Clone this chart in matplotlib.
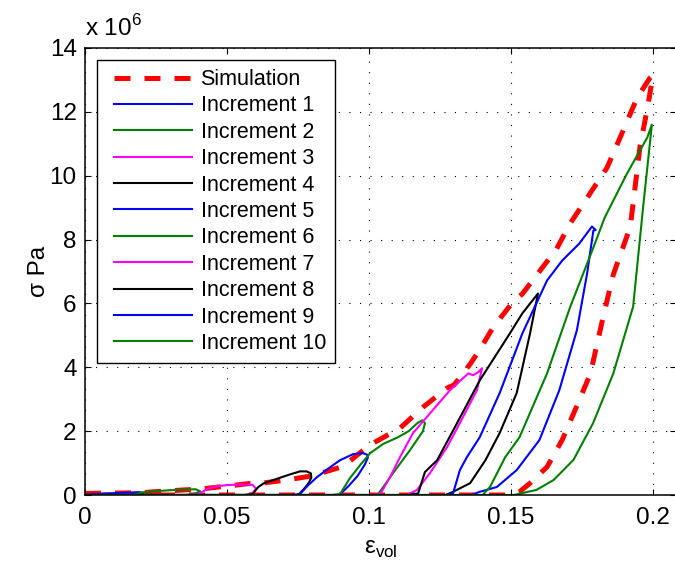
import matplotlib
matplotlib.use("Agg")
import matplotlib.pyplot as plt
from matplotlib.ticker import FuncFormatter
from matplotlib.lines import Line2D
from matplotlib.legend_handler import HandlerLine2D

plt.rcParams['font.family'] = ['Liberation Sans', 'DejaVu Sans']
plt.rcParams['mathtext.fontset'] = 'custom'
plt.rcParams['mathtext.rm'] = 'Liberation Sans'

# stress values are in units of 1e6 Pa
sim_x = [0, 0.01, 0.02, 0.024, 0.035, 0.04, 0.047, 0.059, 0.063, 0.071, 0.08,
         0.091, 0.1, 0.111, 0.119, 0.1275, 0.13, 0.1356, 0.139, 0.1437, 0.1507,
         0.154, 0.16, 0.166, 0.1708, 0.1778, 0.1838, 0.1884, 0.1944, 0.1989, 0.2,
         0.198, 0.1954, 0.192, 0.186, 0.1824, 0.178, 0.173, 0.168, 0.1627, 0.1567,
         0.153, 0.148, 0.0]
sim_y = [0.05, 0.06, 0.07, 0.1, 0.16, 0.18, 0.25, 0.37, 0.38, 0.47, 0.6,
         0.9, 1.55, 2.1, 2.75, 3.35, 3.45, 4.1, 4.55, 5.25, 6.05,
         6.3, 7.0, 7.7, 8.5, 9.44, 10.25, 11.19, 12.44, 13.06, 13.15,
         12.1, 10.9, 8.4, 6.9, 5.56, 3.81, 2.75, 1.72, 0.88, 0.37,
         0.1, 0.0, 0.0]

inc1_x = [0, 0.002, 0.008, 0.014, 0.019, 0.0205, 0.02, 0.018, 0.015]
inc1_y = [0, 0.02, 0.05, 0.07, 0.09, 0.07, 0.03, 0.01, 0]

inc2_x = [0, 0.017, 0.02, 0.025, 0.03, 0.035, 0.039, 0.0405, 0.039, 0.036]
inc2_y = [0, 0, 0.08, 0.12, 0.15, 0.17, 0.18, 0.12, 0.05, 0]

inc3_x = [0, 0.036, 0.0398, 0.043, 0.046, 0.05, 0.055, 0.059, 0.0602, 0.059, 0.057]
inc3_y = [0, 0, 0.02, 0.19, 0.27, 0.31, 0.33, 0.32, 0.2, 0.06, 0]

inc4_x = [0, 0.056, 0.059, 0.061, 0.063, 0.068, 0.072, 0.0757, 0.078, 0.0795,
          0.0797, 0.0788, 0.077, 0.0755, 0.0745]
inc4_y = [0, 0, 0.03, 0.25, 0.37, 0.52, 0.64, 0.74, 0.74, 0.68, 0.55, 0.38,
          0.18, 0.04, 0]

inc5_x = [0, 0.073, 0.0757, 0.0785, 0.0817, 0.086, 0.0898, 0.0944, 0.0979,
          0.0994, 0.0996, 0.0985, 0.096, 0.093, 0.0905, 0.089]
inc5_y = [0, 0, 0.03, 0.3, 0.56, 0.85, 1.09, 1.28, 1.31, 1.26, 1.17, 0.95,
          0.6, 0.3, 0.08, 0]

inc6_x = [0, 0.087, 0.0898, 0.0933, 0.097, 0.1004, 0.105, 0.11, 0.114, 0.117,
          0.1188, 0.1197, 0.119, 0.1144, 0.1085, 0.105, 0.103]
inc6_y = [0, 0, 0.03, 0.53, 0.95, 1.31, 1.6, 1.8, 2.0, 2.25, 2.34, 2.25, 2.0,
          1.4, 0.69, 0.25, 0]

inc7_x = [0, 0.101, 0.104, 0.1074, 0.111, 0.1155, 0.1215, 0.1285, 0.133, 0.135,
          0.1366, 0.1385, 0.1398, 0.138, 0.1331, 0.1275, 0.1215, 0.1169, 0.1135]
inc7_y = [0, 0, 0.03, 0.56, 1.2, 1.94, 2.56, 3.28, 3.65, 3.81, 3.75, 3.85, 3.97,
          3.28, 2.44, 1.5, 0.69, 0.16, 0]

inc8_x = [0, 0.114, 0.1173, 0.1197, 0.124, 0.131, 0.139, 0.1496, 0.154, 0.1595,
          0.1567, 0.152, 0.146, 0.141, 0.1356, 0.1296, 0.127]
inc8_y = [0, 0, 0.05, 0.72, 1.09, 2.25, 3.59, 5.06, 5.69, 6.31,
          5.06, 3.19, 1.94, 1.09, 0.37, 0.1, 0]

inc9_x = [0, 0.127, 0.1296, 0.132, 0.1345, 0.139, 0.146, 0.154, 0.1627, 0.168,
          0.174, 0.1785, 0.1798, 0.179, 0.1768, 0.1732, 0.167, 0.16, 0.152,
          0.145, 0.139, 0.136]
inc9_y = [0, 0, 0.05, 0.78, 1.19, 1.81, 3.19, 5.06, 6.72, 7.34,
          7.87, 8.41, 8.3, 8.28, 6.94, 5.16, 3.28, 1.72, 0.78,
          0.25, 0.1, 0]

inc10_x = [0, 0.14, 0.1426, 0.148, 0.153, 0.1627, 0.1708, 0.179, 0.183, 0.1908,
           0.198, 0.1996, 0.1965, 0.193, 0.186, 0.1789, 0.172, 0.165, 0.159,
           0.151, 0.0]
inc10_y = [0, 0, 0.25, 1.19, 1.81, 3.81, 5.88, 7.75, 8.69, 10.06,
           11.2, 11.6, 9.0, 5.9, 3.8, 2.25, 1.1, 0.47, 0.16, 0, 0]

inc_x = [inc1_x, inc2_x, inc3_x, inc4_x, inc5_x, inc6_x, inc7_x, inc8_x, inc9_x, inc10_x]
inc_y = [inc1_y, inc2_y, inc3_y, inc4_y, inc5_y, inc6_y, inc7_y, inc8_y, inc9_y, inc10_y]
inc_colors = ['#0000ff', '#008000', '#ff00ff', '#000000']

x_ticks = [0, 0.05, 0.1, 0.15, 0.2]
y_ticks = [0, 2, 4, 6, 8, 10, 12, 14]

fig = plt.figure(figsize=(6.75, 5.72), dpi=100)
ax = fig.add_axes([85 / 675, 77 / 572, (676 - 85) / 675, (495 - 48) / 572])

ax.plot(sim_x, [v * 1e6 for v in sim_y], color='red', lw=3.6,
        dashes=(3.2, 2.8), label='Simulation')
for i in range(10):
    ax.plot(inc_x[i], [v * 1e6 for v in inc_y[i]], color=inc_colors[i % 4],
            lw=1.5, label='Increment %d' % (i + 1))

ax.set_xlim(0, (676 - 85) / 2840)
ax.set_ylim(0, 14e6)
ax.set_xticks(x_ticks)
ax.set_yticks([v * 1e6 for v in y_ticks])
ax.xaxis.set_major_formatter(FuncFormatter(lambda v, p: '%g' % v))
ax.yaxis.set_major_formatter(FuncFormatter(lambda v, p: '%g' % (v / 1e6)))
ax.tick_params(direction='in', length=4.5, width=0.8, labelsize=17.5,
               top=True, right=True)
ax.tick_params(axis='x', pad=9)
ax.tick_params(axis='y', pad=6)
ax.grid(True, color='black', lw=0.8, linestyle=(0, (1, 8.5)))
for s in ax.spines.values():
    s.set_linewidth(1.1)

ax.set_xlabel('ε$_\\mathregular{vol}$', fontsize=17.5, labelpad=6)
ax.set_ylabel('σ Pa', fontsize=17.5, labelpad=0)
fig.text(85 / 675, 1 - 36 / 572, 'x 10$^\\mathregular{6}$', fontsize=17.5,
         ha='left', va='baseline')

leg = ax.legend(loc='upper left', bbox_to_anchor=(0.0203, 0.973), fontsize=15.5,
                handlelength=3.97, handletextpad=0.42, labelspacing=0.25,
                borderpad=0.42, borderaxespad=0, fancybox=False, framealpha=1,
                handler_map={Line2D: HandlerLine2D(xpad=0.38)})
leg.get_frame().set_edgecolor('black')
leg.get_frame().set_linewidth(1.0)

fig.savefig('out.png', dpi=100)
